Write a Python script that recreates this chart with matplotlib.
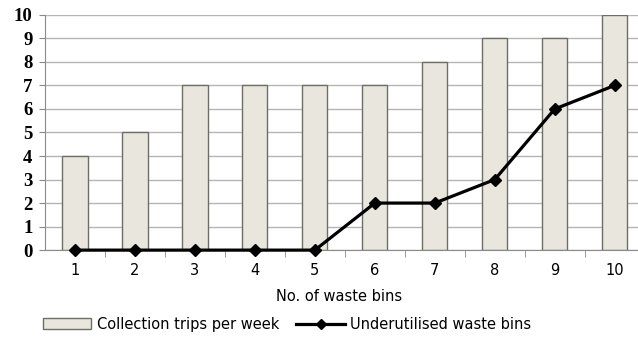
import matplotlib
matplotlib.use("Agg")
import matplotlib.pyplot as plt
from matplotlib.lines import Line2D
from matplotlib.patches import Patch

# waste bin counts and weekly values
bins = [1, 2, 3, 4, 5, 6, 7, 8, 9, 10]
collection_trips = [4, 5, 7, 7, 7, 7, 8, 9, 9, 10]
underutilised = [0, 0, 0, 0, 0, 2, 2, 3, 6, 7]

fig = plt.figure(figsize=(6.38, 3.38), dpi=100)
ax = fig.add_axes([0.0705, 0.26, 0.94, 0.696])

ax.bar(bins, collection_trips, width=0.42, color="#e9e7dd", edgecolor="#6e6e68",
       linewidth=1.0, zorder=2)
ax.plot(bins, underutilised, color="black", linewidth=2.3, marker="D",
        markersize=6.5, zorder=3, clip_on=False)

ax.set_xlim(0.5, 10.5)
ax.set_ylim(0, 10)
ax.set_yticks(range(0, 11))
ax.set_xticks(bins)
ax.set_xticks([b + 0.5 for b in bins[:-1]], minor=True)
ax.grid(axis="y", color="#b5b5b5", linewidth=1.0, zorder=0)

for side in ["top", "right"]:
    ax.spines[side].set_visible(False)
ax.spines["left"].set_color("#8a8a8a")
ax.spines["bottom"].set_color("#8a8a8a")

ax.tick_params(axis="y", length=4, color="#8a8a8a", pad=5)
ax.tick_params(axis="x", which="major", length=0, pad=9, labelsize=10.5)
ax.tick_params(axis="x", which="minor", length=5, color="#8a8a8a")
for lbl in ax.get_yticklabels():
    lbl.set_family("Liberation Serif")
    lbl.set_fontweight("bold")
    lbl.set_fontsize(13.5)

# axis title sits a little left of the axes centre
ax.set_xlabel("No. of waste bins", fontsize=10.5)
ax.xaxis.set_label_coords(0.49, -0.165)

handles = [
    Patch(facecolor="#e9e7dd", edgecolor="#6e6e68", linewidth=1.0),
    Line2D([], [], color="black", linewidth=2.3, marker="D", markersize=5.5),
]
fig.legend(handles, ["Collection trips per week", "Underutilised waste bins"],
           loc="lower center", bbox_to_anchor=(0.45, -0.02), ncol=2, frameon=False,
           fontsize=10.5, handlelength=3.3, handletextpad=0.4, columnspacing=1.2)

fig.savefig("out.png", dpi=100)
